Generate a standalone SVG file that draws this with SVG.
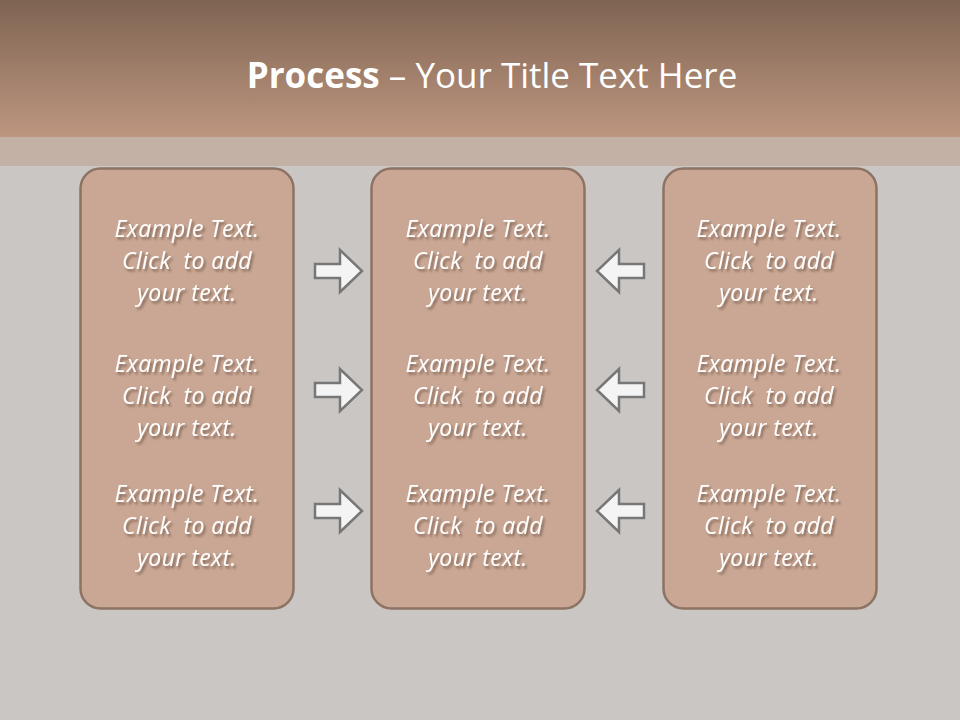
<svg xmlns="http://www.w3.org/2000/svg" width="960" height="720" viewBox="0 0 960 720">
<defs>
<linearGradient id="hdr" x1="0" y1="0" x2="0" y2="1">
<stop offset="0" stop-color="#7f6452"/>
<stop offset="1" stop-color="#bd9680"/>
</linearGradient>
<filter id="sh" x="-20%" y="-20%" width="140%" height="160%">
<feDropShadow dx="2" dy="2.5" stdDeviation="1.3" flood-color="#5a4030" flood-opacity="0.6"/>
</filter>
<path id="ar" d="M0,-7 H25 V-21 L47,0 L25,21 V7 H0 Z"/>
</defs>
<style>
.box{fill:#c9a794;stroke:#8d7364;stroke-width:2.5}
.t{font-family:"Open Sans","DejaVu Sans",sans-serif;font-style:italic;font-size:23px;letter-spacing:0.4px;fill:#ffffff;text-anchor:middle;white-space:pre;filter:url(#sh)}
.arrow{fill:#f4f4f4;stroke:#777777;stroke-width:2.5;stroke-linejoin:miter}
.title{font-family:"Open Sans","DejaVu Sans",sans-serif;font-size:35px;fill:#ffffff;text-anchor:middle}
</style>
<rect x="0" y="0" width="960" height="720" fill="#cac6c3"/>
<rect x="0" y="0" width="960" height="137" fill="url(#hdr)"/>
<rect x="0" y="137" width="960" height="29" fill="#c4b1a6"/>
<text class="title" x="492" y="88"><tspan font-weight="bold">Process</tspan> – Your Title Text Here</text>

<g id="node-left">
<rect class="box" x="80.5" y="168.5" width="213" height="440" rx="20"/>
<text class="t" x="187" y="237">Example Text.</text>
<text class="t" x="187" y="269">Click  to add</text>
<text class="t" x="187" y="301">your text.</text>
<text class="t" x="187" y="372">Example Text.</text>
<text class="t" x="187" y="404">Click  to add</text>
<text class="t" x="187" y="436">your text.</text>
<text class="t" x="187" y="502">Example Text.</text>
<text class="t" x="187" y="534">Click  to add</text>
<text class="t" x="187" y="566">your text.</text>
</g>
<g id="node-center">
<rect class="box" x="371.5" y="168.5" width="213" height="440" rx="20"/>
<text class="t" x="478" y="237">Example Text.</text>
<text class="t" x="478" y="269">Click  to add</text>
<text class="t" x="478" y="301">your text.</text>
<text class="t" x="478" y="372">Example Text.</text>
<text class="t" x="478" y="404">Click  to add</text>
<text class="t" x="478" y="436">your text.</text>
<text class="t" x="478" y="502">Example Text.</text>
<text class="t" x="478" y="534">Click  to add</text>
<text class="t" x="478" y="566">your text.</text>
</g>
<g id="node-right">
<rect class="box" x="663.5" y="168.5" width="213" height="440" rx="20"/>
<text class="t" x="769" y="237">Example Text.</text>
<text class="t" x="769" y="269">Click  to add</text>
<text class="t" x="769" y="301">your text.</text>
<text class="t" x="769" y="372">Example Text.</text>
<text class="t" x="769" y="404">Click  to add</text>
<text class="t" x="769" y="436">your text.</text>
<text class="t" x="769" y="502">Example Text.</text>
<text class="t" x="769" y="534">Click  to add</text>
<text class="t" x="769" y="566">your text.</text>
</g>
<g id="connectors">
<use href="#ar" class="arrow" transform="translate(315,271)"/>
<use href="#ar" class="arrow" transform="translate(315,390)"/>
<use href="#ar" class="arrow" transform="translate(315,511)"/>
<use href="#ar" class="arrow" transform="translate(644,271) scale(-1,1)"/>
<use href="#ar" class="arrow" transform="translate(644,390) scale(-1,1)"/>
<use href="#ar" class="arrow" transform="translate(644,511) scale(-1,1)"/>
</g>
</svg>
